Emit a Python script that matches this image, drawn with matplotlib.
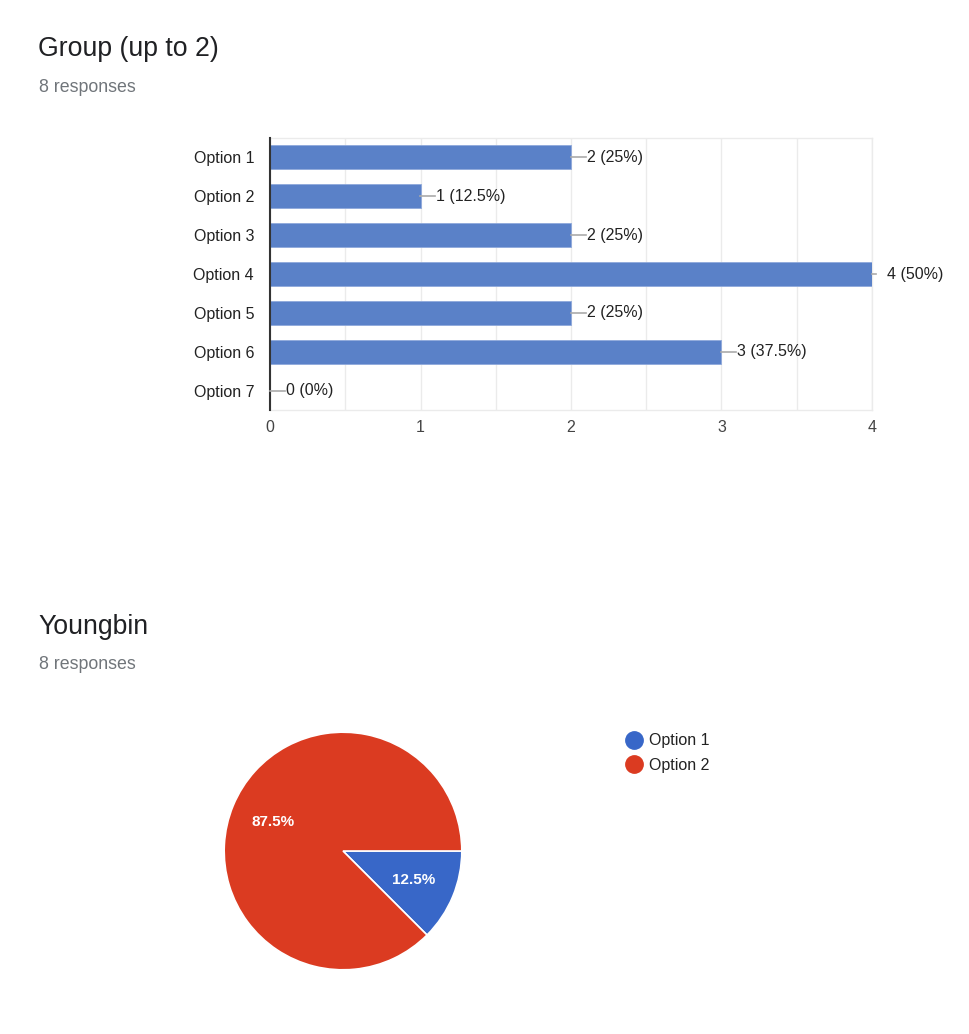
import matplotlib
matplotlib.use("Agg")
import matplotlib.pyplot as plt
from matplotlib.lines import Line2D
from matplotlib.transforms import offset_copy

plt.rcParams['font.family'] = ['Liberation Sans', 'DejaVu Sans']

# ---- data ----
bar_title = "Group (up to 2)"
bar_subtitle = "8 responses"
bar_categories = ["Option 1", "Option 2", "Option 3", "Option 4", "Option 5", "Option 6", "Option 7"]
bar_counts = [2, 1, 2, 4, 2, 3, 0]
bar_labels = ["2 (25%)", "1 (12.5%)", "2 (25%)", "4 (50%)", "2 (25%)", "3 (37.5%)", "0 (0%)"]
x_ticks = [0, 1, 2, 3, 4]

pie_title = "Youngbin"
pie_subtitle = "8 responses"
pie_categories = ["Option 1", "Option 2"]
pie_values = [1, 7]
pie_colors = ["#3867c8", "#db3b21"]

W, H = 970, 1034
fig = plt.figure(figsize=(W / 100, H / 100), dpi=100)
fig.patch.set_facecolor("white")

def fx(px):
    return px / W

def fy(py):
    return 1 - py / H

# titles
fig.text(fx(38), fy(48.5), bar_title, fontsize=19.2, color="#202124", va="center", ha="left")
fig.text(fx(39), fy(87.5), bar_subtitle, fontsize=12.8, color="#70757a", va="center", ha="left")
fig.text(fx(38), fy(626.5), pie_title, fontsize=19.2, color="#202124", va="center", ha="left")
fig.text(fx(39), fy(664.5), pie_subtitle, fontsize=12.8, color="#70757a", va="center", ha="left")

# ---- bar chart ----
ax = fig.add_axes([fx(270), fy(410), fx(872) - fx(270), fy(138) - fy(410)])
ypos = list(range(len(bar_categories)))
ax.barh(ypos, bar_counts, height=0.62, color="#5a81c8", edgecolor="#8fa9db", linewidth=0.6, zorder=3)
ax.set_xlim(0, 4)
ax.set_ylim(len(bar_categories) - 0.5, -0.5)
ax.set_yticks(ypos)
ax.set_yticklabels(bar_categories, fontsize=11.5, color="#222222")
ax.set_xticks(x_ticks)
ax.set_xticklabels([str(t) for t in x_ticks], fontsize=11.5, color="#444444")
ax.set_xticks([0.5, 1.5, 2.5, 3.5], minor=True)
ax.tick_params(axis="both", which="both", length=0)
ax.tick_params(axis="y", pad=11.5)
ax.tick_params(axis="x", pad=7.5)
ax.grid(axis="x", which="both", color="#ebebeb", linewidth=1, zorder=0)
for s in ["top", "right", "bottom"]:
    ax.spines[s].set_color("#ebebeb")
    ax.spines[s].set_linewidth(1)
ax.spines["left"].set_color("#333333")
ax.spines["left"].set_linewidth(1.5)
ax.spines["left"].set_zorder(5)

xmax = ax.get_xlim()[1]
for y, v, lab in zip(ypos, bar_counts, bar_labels):
    if v >= xmax:
        line_len, text_off = 4, 15
    else:
        line_len, text_off = 15, 16
    p0 = ax.transData.transform((v, y))
    fig.add_artist(Line2D([fx(p0[0]), fx(p0[0] + line_len)], [p0[1] / H, p0[1] / H],
                          color="#aaaaaa", linewidth=1.2, transform=fig.transFigure))
    tr_txt = offset_copy(ax.transData, fig=fig, x=text_off, y=0, units="dots")
    ax.text(v, y, lab, transform=tr_txt, fontsize=11.5, color="#222222",
            va="center", ha="left", clip_on=False)

# ---- pie chart ----
r = 120
pax = fig.add_axes([fx(343 - r), fy(851 + r), fx(2 * r), fy(851 - r) - fy(851 + r)])
wedges, texts, autotexts = pax.pie(
    pie_values, colors=pie_colors, startangle=0, counterclock=False,
    autopct="%1.1f%%", pctdistance=0.64,
    wedgeprops=dict(edgecolor="white", linewidth=1.2),
    textprops=dict(color="white", fontsize=11, fontweight="bold"),
)
pax.set_xlim(-1.01, 1.01)
pax.set_ylim(-1.01, 1.01)
pax.set_aspect("equal")
pax.axis("off")

handles = [Line2D([0], [0], marker="o", linestyle="none", markersize=12.5,
                  markerfacecolor=c, markeredgecolor=c) for c in pie_colors]
fig.legend(handles, pie_categories, loc="upper left",
           bbox_to_anchor=(fx(619), fy(727)), frameon=False, fontsize=11.5,
           handletextpad=0.35, labelspacing=0.58, borderaxespad=0, handlelength=1.1,
           labelcolor="#222222")

fig.savefig("out.png", dpi=100, facecolor="white")
